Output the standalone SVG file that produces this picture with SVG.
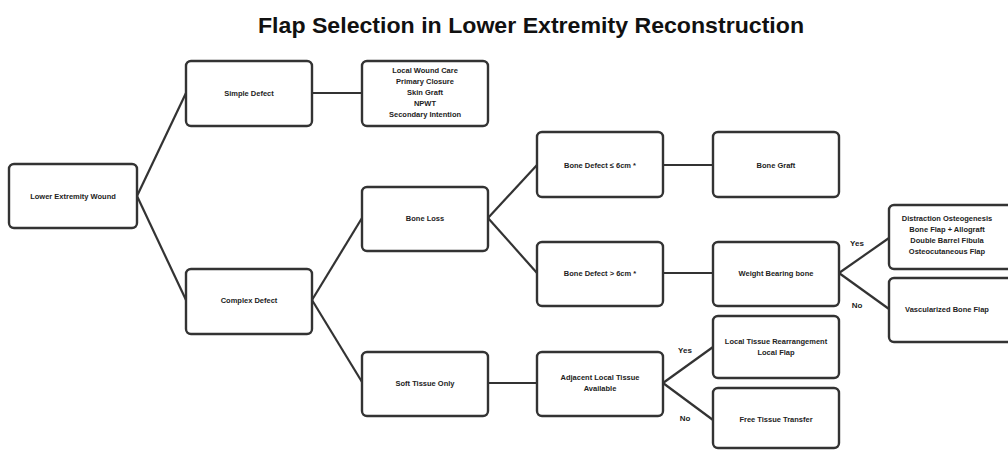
<svg xmlns="http://www.w3.org/2000/svg" width="1008" height="450" viewBox="0 0 1008 450">
<style>
.box{fill:#fff;stroke:#333;stroke-width:2.4}
.t{font-family:"Liberation Sans",Arial,sans-serif;font-weight:bold;font-size:7.5px;fill:#222;text-anchor:middle}
.lbl{font-family:"Liberation Sans",Arial,sans-serif;font-weight:bold;font-size:8px;fill:#222;text-anchor:middle}
.c{stroke:#333;stroke-width:2.2;fill:none}
.title{font-family:"Liberation Sans",Arial,sans-serif;font-weight:bold;font-size:22px;fill:#111;text-anchor:middle}
</style>
<rect width="1008" height="450" fill="#fff"/>
<text class="title" x="531" y="33" textLength="546" lengthAdjust="spacingAndGlyphs">Flap Selection in Lower Extremity Reconstruction</text>
<g id="connectors">
<path class="c" d="M137,196 L186,93"/>
<path class="c" d="M137,196 L186,300"/>
<path class="c" d="M312,93 L362,93"/>
<path class="c" d="M312,300 L362,218"/>
<path class="c" d="M312,300 L362,382"/>
<path class="c" d="M488,218 L537,165"/>
<path class="c" d="M488,218 L537,273"/>
<path class="c" d="M663,165 L713,165"/>
<path class="c" d="M663,273 L713,273"/>
<path class="c" d="M839,273 L889,238"/>
<path class="c" d="M839,273 L889,309"/>
<path class="c" d="M488,383 L537,383"/>
<path class="c" d="M663,383 L713,347"/>
<path class="c" d="M663,383 L713,420"/>
<text class="lbl" x="857" y="246">Yes</text>
<text class="lbl" x="857" y="308">No</text>
<text class="lbl" x="685" y="353">Yes</text>
<text class="lbl" x="685" y="421">No</text>
</g>
<g id="n-wound"><rect class="box" x="9" y="164" width="128" height="64" rx="5"/><text class="t" x="73" y="199">Lower Extremity Wound</text></g>
<g id="n-simple"><rect class="box" x="186" y="61" width="126" height="65" rx="5"/><text class="t" x="249" y="96">Simple Defect</text></g>
<g id="n-local-care"><rect class="box" x="362" y="61" width="126" height="65" rx="5"/>
<text class="t" x="425" y="73">Local Wound Care</text>
<text class="t" x="425" y="84">Primary Closure</text>
<text class="t" x="425" y="95">Skin Graft</text>
<text class="t" x="425" y="106">NPWT</text>
<text class="t" x="425" y="117">Secondary Intention</text></g>
<g id="n-complex"><rect class="box" x="186" y="269" width="126" height="65" rx="5"/><text class="t" x="249" y="303">Complex Defect</text></g>
<g id="n-boneloss"><rect class="box" x="362" y="187" width="126" height="64" rx="5"/><text class="t" x="425" y="221">Bone Loss</text></g>
<g id="n-soft"><rect class="box" x="362" y="352" width="126" height="64" rx="5"/><text class="t" x="425" y="386">Soft Tissue Only</text></g>
<g id="n-bd-small"><rect class="box" x="537" y="132" width="126" height="65" rx="5"/><text class="t" x="600" y="168">Bone Defect ≤ 6cm *</text></g>
<g id="n-bonegraft"><rect class="box" x="713" y="132" width="126" height="65" rx="5"/><text class="t" x="776" y="168">Bone Graft</text></g>
<g id="n-bd-large"><rect class="box" x="537" y="242" width="126" height="64" rx="5"/><text class="t" x="600" y="276">Bone Defect &gt; 6cm *</text></g>
<g id="n-weight"><rect class="box" x="713" y="242" width="126" height="64" rx="5"/><text class="t" x="776" y="276">Weight Bearing bone</text></g>
<g id="n-distraction"><rect class="box" x="889" y="205" width="126" height="64" rx="5"/>
<text class="t" x="947" y="221">Distraction Osteogenesis</text>
<text class="t" x="947" y="232">Bone Flap + Allograft</text>
<text class="t" x="947" y="243">Double Barrel Fibula</text>
<text class="t" x="947" y="254">Osteocutaneous Flap</text></g>
<g id="n-vasc"><rect class="box" x="889" y="278" width="126" height="64" rx="5"/><text class="t" x="947" y="312">Vascularized Bone Flap</text></g>
<g id="n-adjacent"><rect class="box" x="537" y="352" width="126" height="64" rx="5"/>
<text class="t" x="600" y="380">Adjacent Local Tissue</text>
<text class="t" x="600" y="391">Available</text></g>
<g id="n-rearr"><rect class="box" x="713" y="316" width="126" height="62" rx="5"/>
<text class="t" x="776" y="344">Local Tissue Rearrangement</text>
<text class="t" x="776" y="355">Local Flap</text></g>
<g id="n-free"><rect class="box" x="713" y="388" width="126" height="60" rx="5"/><text class="t" x="776" y="422">Free Tissue Transfer</text></g>
</svg>
